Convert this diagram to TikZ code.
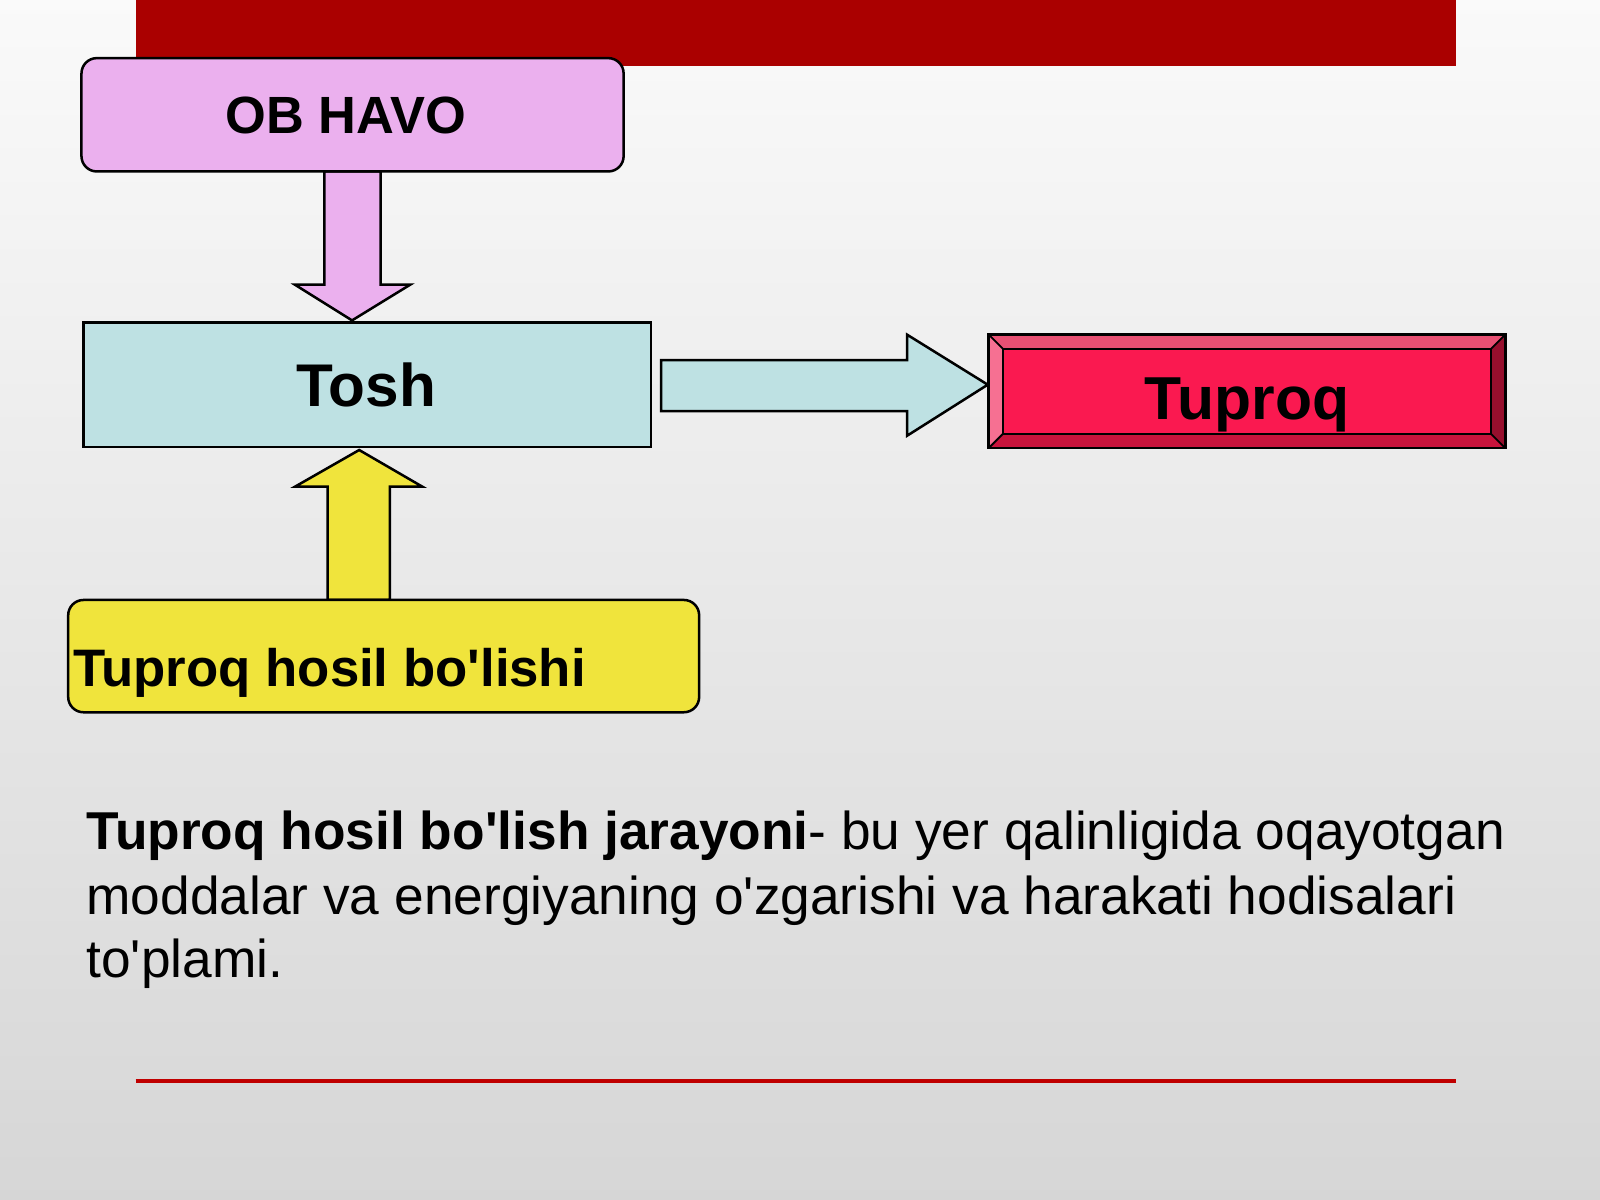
\documentclass[tikz,border=0pt]{standalone}
\usepackage{fontspec}
\setmainfont{Liberation Sans}
\newcommand{\apos}{\textquotesingle}
\definecolor{redbar}{RGB}{170,0,0}
\definecolor{redline}{RGB}{192,0,0}
\definecolor{pinkfill}{RGB}{235,176,238}
\definecolor{tealfill}{RGB}{190,225,227}
\definecolor{yellowfill}{RGB}{240,228,60}
\definecolor{crimson}{RGB}{250,25,80}
\definecolor{bevtop}{RGB}{232,80,115}
\definecolor{bevleft}{RGB}{246,112,146}
\definecolor{bevbottom}{RGB}{200,20,60}
\definecolor{bevright}{RGB}{150,15,45}
\tikzset{
  boxnode/.style={draw=black, line width=0.7pt, inner sep=0pt, outer sep=0pt},
  arrowshape/.style={draw=black, line width=0.7pt, line join=miter},
  labeltext/.style={font=\bfseries, inner sep=0pt, text=black},
  paratext/.style={inner sep=0pt, text=black, anchor=base west, font=\fontsize{14.85pt}{18pt}\selectfont}
}
\begin{document}
\begin{tikzpicture}[x=0.01cm,y=-0.01cm]
\useasboundingbox (0,0) rectangle (1568,1176);
\shade[top color=white!98!black, middle color=black!5, bottom color=black!16] (0,0) rectangle (1568,1176);
% top red bar and bottom red line
\fill[redbar] (133,0) rectangle (1427,65);
\coordinate (lineL) at (133,1059);
\coordinate (lineR) at (1427,1059);
\draw[redline, line width=1.1pt] (lineL) -- (lineR);

% arrows
\draw[arrowshape, fill=pinkfill] (318,168) -- (373,168) -- (373,279) -- (402,279) -- (345,314) -- (289,279) -- (318,279) -- cycle;
\draw[arrowshape, fill=tealfill] (648,353) -- (889,353) -- (889,328) -- (968,377) -- (889,427) -- (889,403) -- (648,403) -- cycle;
\draw[arrowshape, fill=yellowfill] (321,588) -- (382,588) -- (382,477) -- (414,477) -- (352,441) -- (289,477) -- (321,477) -- cycle;

% boxes
\node[boxnode, fill=pinkfill, rounded corners=0.15cm, minimum width=5.31cm, minimum height=1.11cm] (obhavo) at (345.5,112.5) {};
\node[boxnode, fill=tealfill, minimum width=5.56cm, minimum height=1.22cm] (tosh) at (360,377) {};
\node[boxnode, fill=yellowfill, rounded corners=0.15cm, minimum width=6.18cm, minimum height=1.10cm] (hosil) at (376,643) {};

% Tuproq bevel button
\node[inner sep=0pt, outer sep=0pt, minimum width=5.06cm, minimum height=1.11cm] (tuproq) at (1222,383.5) {};
\fill[bevtop] (969,328) -- (1475,328) -- (1461,342) -- (983,342) -- cycle;
\fill[bevleft] (969,328) -- (983,342) -- (983,425) -- (969,439) -- cycle;
\fill[bevbottom] (969,439) -- (983,425) -- (1461,425) -- (1475,439) -- cycle;
\fill[bevright] (1475,328) -- (1461,342) -- (1461,425) -- (1475,439) -- cycle;
\fill[crimson] (983,342) rectangle (1461,425);
\draw[black, line width=0.5pt] (983,342) rectangle (1461,425);
\draw[black, line width=0.5pt] (969,328) -- (983,342) (1475,328) -- (1461,342) (969,439) -- (983,425) (1475,439) -- (1461,425);
\draw[black, line width=0.7pt] (tuproq.south west) rectangle (tuproq.north east);

% labels
\node[labeltext, anchor=base, font=\fontsize{14.6pt}{17pt}\selectfont\bfseries] (obhavoText) at (339,131) {OB HAVO};
\node[labeltext, anchor=base, font=\fontsize{16.8pt}{19pt}\selectfont\bfseries] (toshText) at (359,398) {Tosh};
\node[labeltext, anchor=base, font=\fontsize{16.9pt}{19pt}\selectfont\bfseries] (tuproqText) at (1222,411) {Tuproq};
\node[labeltext, anchor=base west, font=\fontsize{14.7pt}{17pt}\selectfont\bfseries] (hosilText) at (71,673) {Tuproq hosil bo\apos lishi};

% paragraph
\node[paratext] (p1) at (84,833) {\textbf{Tuproq hosil bo\apos lish jarayoni}- bu yer qalinligida oqayotgan};
\node[paratext] (p2) at (84,896) {moddalar va energiyaning o\apos zgarishi va harakati hodisalari};
\node[paratext] (p3) at (84,958) {to\apos plami.};
\end{tikzpicture}
\end{document}
